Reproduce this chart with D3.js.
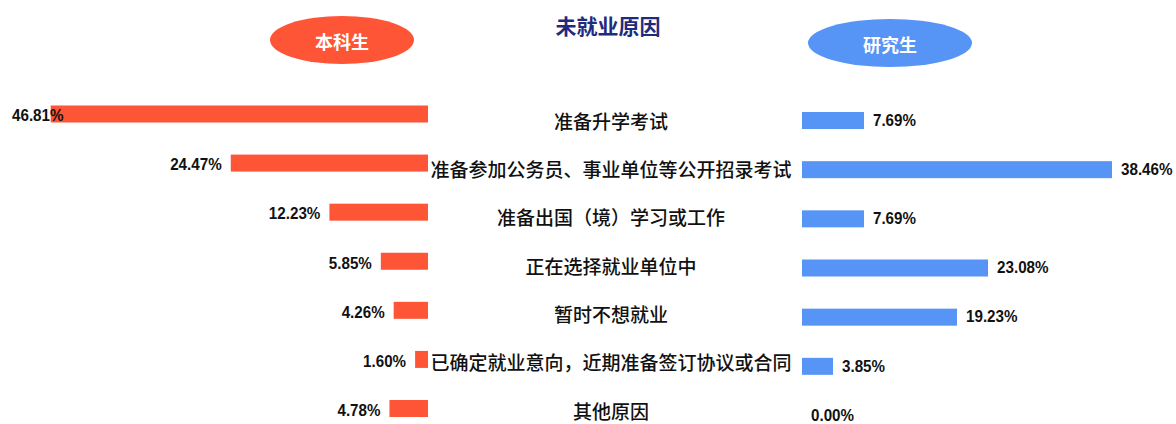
<!DOCTYPE html>
<html><head><meta charset="utf-8">
<script src="https://cdn.jsdelivr.net/npm/d3@7"></script>
<style>
html,body{margin:0;padding:0;background:#fff;}
svg{display:block;}
</style></head>
<body>
<svg id="chart" width="1176" height="424"></svg>
<script>
const title = "未就业原因";
const groupNames = ["本科生", "研究生"];
const categories = [
  "准备升学考试",
  "准备参加公务员、事业单位等公开招录考试",
  "准备出国（境）学习或工作",
  "正在选择就业单位中",
  "暂时不想就业",
  "已确定就业意向，近期准备签订协议或合同",
  "其他原因"
];
const undergrad = [46.81, 24.47, 12.23, 5.85, 4.26, 1.60, 4.78];
const graduate  = [7.69, 38.46, 7.69, 23.08, 19.23, 3.85, 0.00];

const RED = "#fe5537", BLUE = "#5694f6", NAVY = "#1f2b7e";
const numFont = "'Liberation Sans','Arial',sans-serif";
const cjkFont = "'Noto Sans CJK SC','Noto Sans',sans-serif";
const pxPerPct = 8.06;
const charW = 8.6;

const svg = d3.select("#chart");

const xLeft = d3.scaleLinear().domain([0, 50]).range([428, 428 - 50 * pxPerPct]);
const xRight = d3.scaleLinear().domain([0, 50]).range([802, 802 + 50 * pxPerPct]);
const yLeft = d3.scalePoint().domain(categories).range([114, 408.5]);
const yRight = d3.scalePoint().domain(categories).range([120.5, 415.5]);
const yLabel = d3.scalePoint().domain(categories).range([120, 410]);
const barH = 17;

const fmt = v => d3.format(".2f")(v) + "%";

// Title
svg.append("text").attr("x", 608).attr("y", 25)
  .attr("text-anchor", "middle").attr("dominant-baseline", "central")
  .attr("font-family", cjkFont).attr("font-weight", 700).attr("font-size", 21)
  .attr("fill", NAVY).text(title);

// Group ellipses
const badges = [
  {name: groupNames[0], cx: 342, cy: 40, rx: 72, ry: 24, color: RED},
  {name: groupNames[1], cx: 890, cy: 43, rx: 82, ry: 24, color: BLUE}
];
const b = svg.selectAll("g.badge").data(badges).join("g").attr("class", "badge");
b.append("ellipse").attr("cx", d => d.cx).attr("cy", d => d.cy)
  .attr("rx", d => d.rx).attr("ry", d => d.ry).attr("fill", d => d.color);
b.append("text").attr("x", d => d.cx).attr("y", d => d.cy + 1)
  .attr("text-anchor", "middle").attr("dominant-baseline", "central")
  .attr("font-family", cjkFont).attr("font-weight", 700).attr("font-size", 18)
  .attr("fill", "#fff").text(d => d.name);

// narrow numeric labels: squeeze horizontally with a transform
function numLabel(sel, xFn, yFn) {
  sel.attr("dominant-baseline", "central").attr("text-anchor", "start")
    .attr("font-family", numFont).attr("font-weight", 700).attr("font-size", 17)
    .attr("fill", "#111")
    .text(d => fmt(d.v))
    .each(function(d) {
      const natural = this.getComputedTextLength() || 1;
      const target = fmt(d.v).length * charW;
      const sx = target / natural;
      d3.select(this).attr("transform", `translate(${xFn(d)},${yFn(d)}) scale(${sx},1)`);
    });
}

// Left bars
const leftData = categories.map((c, i) => ({c, v: undergrad[i]}));
svg.selectAll("rect.left").data(leftData).join("rect").attr("class", "left")
  .attr("x", d => xLeft(d.v)).attr("width", d => xLeft(0) - xLeft(d.v))
  .attr("y", d => yLeft(d.c) - barH / 2).attr("height", barH)
  .attr("fill", RED);
svg.selectAll("text.lv").data(leftData).join("text").attr("class", "lv")
  .call(numLabel,
    d => Math.max(xLeft(d.v) - 9 - fmt(d.v).length * charW, 12),
    d => yLeft(d.c) + 1);

// Right bars
const rightData = categories.map((c, i) => ({c, v: graduate[i]}));
svg.selectAll("rect.right").data(rightData).join("rect").attr("class", "right")
  .attr("x", xRight(0)).attr("width", d => xRight(d.v) - xRight(0))
  .attr("y", d => yRight(d.c) - barH / 2).attr("height", barH)
  .attr("fill", BLUE);
svg.selectAll("text.rv").data(rightData).join("text").attr("class", "rv")
  .call(numLabel,
    d => xRight(d.v) + 9,
    d => yRight(d.c) - 1);

// Category labels
svg.selectAll("text.cat").data(categories).join("text").attr("class", "cat")
  .attr("x", 611).attr("y", d => yLabel(d))
  .attr("text-anchor", "middle").attr("dominant-baseline", "central")
  .attr("font-family", cjkFont).attr("font-weight", 500).attr("font-size", 19)
  .attr("fill", "#111").text(d => d);
</script>
</body></html>
